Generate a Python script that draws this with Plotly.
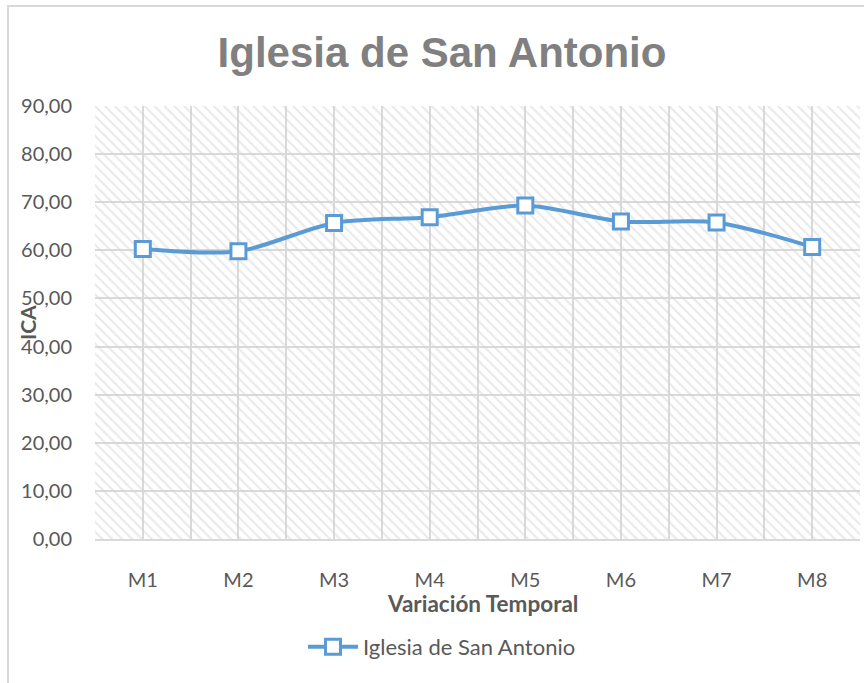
import plotly.graph_objects as go

categories = ["M1", "M2", "M3", "M4", "M5", "M6", "M7", "M8"]
values = [60.3, 59.8, 65.7, 66.9, 69.3, 66.0, 65.8, 60.7]
series_name = "Iglesia de San Antonio"
title_text = "Iglesia de San Antonio"
x_title = "Variación Temporal"
y_title = "ICA"
y_max = 90
y_step = 10

x_idx = list(range(len(categories)))
x_lo, x_hi = -0.5, len(categories) - 0.5

TICK = "#595959"
GRID = "#d9d9d9"
BLUE = "#5b9bd5"
FONT = "Lato"

L, R, T, B = 95, 4, 106, 144
PW, PH = 864 - L - R, 683 - T - B

fig = go.Figure()

# hatched plot-area background
fig.add_trace(go.Scatter(
    x=[x_lo, x_hi, x_hi, x_lo, x_lo], y=[0, 0, y_max, y_max, 0],
    mode="lines", line=dict(width=0), fill="toself",
    fillcolor="rgba(0,0,0,0)",
    fillpattern=dict(shape="\\", fgcolor="#d4d4d4", bgcolor="rgba(0,0,0,0)",
                     size=7, solidity=0.3),
    hoverinfo="skip", showlegend=False))

fig.add_trace(go.Scatter(
    x=x_idx, y=values, name=series_name,
    mode="lines+markers",
    line=dict(color=BLUE, width=4, shape="spline", smoothing=0.8),
    marker=dict(symbol="square", size=15, color="white",
                line=dict(color=BLUE, width=3)),
))

def px_x(px):
    return (px - L) / PW

def px_y(py):
    return (683 - B - py) / PH

fig.update_layout(
    width=864, height=683,
    margin=dict(l=L, r=R, t=T, b=B, autoexpand=False),
    paper_bgcolor="white", plot_bgcolor="white",
    separators=",.",
    font=dict(family=FONT, color=TICK, size=20),
    title=dict(text="<b>" + title_text + "</b>", x=442 / 864, xanchor="center",
               y=1 - 52 / 683, yanchor="middle",
               font=dict(family="Liberation Sans", size=42, color="#808080")),
    showlegend=True,
    legend=dict(orientation="h", x=px_x(442), xanchor="center", y=px_y(647), yanchor="middle",
                font=dict(family=FONT, size=22, color=TICK), itemwidth=50),
    shapes=[dict(type="rect", xref="paper", yref="paper",
                 x0=px_x(8), x1=1.2, y0=-0.5, y1=px_y(6),
                 line=dict(color=GRID, width=2), layer="below")],
    annotations=[
        dict(text="<b>" + x_title + "</b>", xref="paper", yref="paper",
             x=px_x(482), y=px_y(603), xanchor="center", yanchor="middle",
             showarrow=False, font=dict(family=FONT, size=22.5, color=TICK)),
        dict(text="<b>" + y_title + "</b>", xref="paper", yref="paper",
             x=px_x(27), y=px_y(323), xanchor="center", yanchor="middle",
             textangle=-90, showarrow=False, font=dict(family=FONT, size=21, color=TICK)),
    ],
)

fig.update_xaxes(
    range=[x_lo, x_hi], tickvals=x_idx, ticktext=categories,
    showgrid=True, gridcolor=GRID, gridwidth=1.5,
    minor=dict(tick0=-0.5, dtick=1, showgrid=True, gridcolor=GRID, gridwidth=1.5),
    showline=True, linecolor=GRID, linewidth=2,
    ticks="", ticklabelstandoff=22, zeroline=False, automargin=False,
    tickfont=dict(family=FONT, size=20, color=TICK),
)
fig.update_yaxes(
    range=[0, y_max], dtick=y_step, tickformat=".2f",
    showgrid=True, gridcolor=GRID, gridwidth=1.5,
    showline=False, zeroline=False, ticks="", ticklabelstandoff=22, automargin=False,
    tickfont=dict(family=FONT, size=20, color=TICK),
)

fig.write_html("out.html", config={"displayModeBar": False},
               post_script="document.body.style.margin='0';document.body.style.overflow='hidden';")
